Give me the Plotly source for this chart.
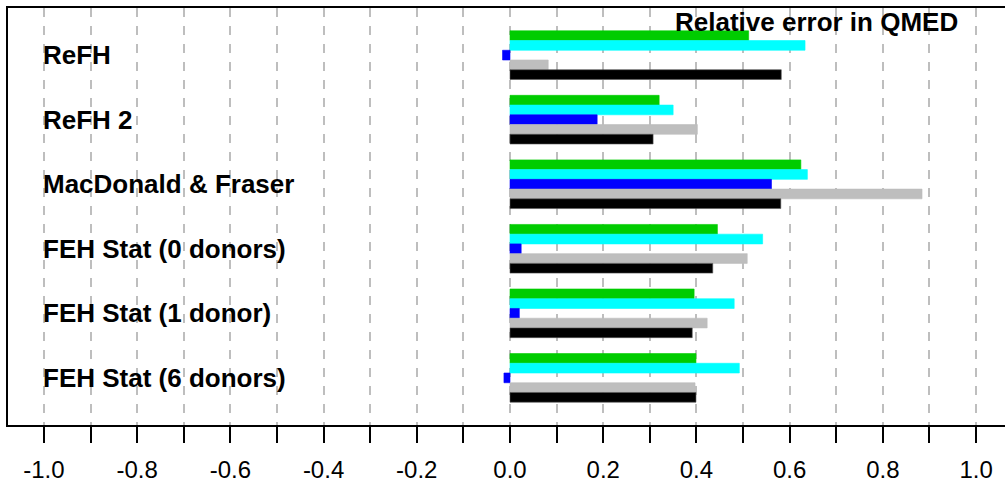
import plotly.graph_objects as go

categories = ["ReFH", "ReFH 2", "MacDonald & Fraser", "FEH Stat (0 donors)",
              "FEH Stat (1 donor)", "FEH Stat (6 donors)"]
green_vals = [0.512, 0.320, 0.624, 0.445, 0.395, 0.399]
cyan_vals = [0.633, 0.350, 0.638, 0.542, 0.481, 0.492]
blue_vals = [-0.016, 0.187, 0.561, 0.024, 0.020, -0.013]
gray_vals = [0.082, 0.402, 0.884, 0.509, 0.423, 0.397]
black_vals = [0.582, 0.307, 0.581, 0.435, 0.391, 0.399]
tick_vals = [-1.0, -0.8, -0.6, -0.4, -0.2, 0.0, 0.2, 0.4, 0.6, 0.8, 1.0]
tick_text = ["-1.0", "-0.8", "-0.6", "-0.4", "-0.2", "0.0", "0.2", "0.4", "0.6", "0.8", "1.0"]

series = [
    (green_vals, "#00CC00", "#00CC00"),
    (cyan_vals, "#00FFFF", "#00FFFF"),
    (blue_vals, "#0000FF", "#0000FF"),
    (gray_vals, "#BEBEBE", "#BEBEBE"),
    (black_vals, "#000000", "#555555"),
]

fig = go.Figure()
for vals, col, lcol in series:
    fig.add_trace(go.Bar(
        y=categories, x=vals, orientation="h",
        marker=dict(color=col, line=dict(color=lcol, width=0.6)),
        showlegend=False, hoverinfo="x+y",
    ))

for c in categories:
    fig.add_annotation(
        x=-1.0, y=c, xref="x", yref="y", text="<b>%s</b>" % c,
        showarrow=False, xanchor="left", yanchor="middle", xshift=-3,
        font=dict(family="Liberation Sans, Arial, sans-serif", size=26, color="black"),
    )

fig.add_annotation(
    x=0.955, y=1.0, xref="paper", yref="paper",
    text="<b>Relative error in QMED</b>", showarrow=False,
    xanchor="right", yanchor="top", yshift=3,
    font=dict(family="Liberation Sans, Arial, sans-serif", size=26, color="black"),
)

fig.update_layout(
    width=1005, height=490,
    margin=dict(l=8, r=0, t=8, b=65),
    paper_bgcolor="white", plot_bgcolor="white",
    barmode="group", bargap=0.246, bargroupgap=0.0,
    font=dict(family="Liberation Sans, Arial, sans-serif", size=24, color="black"),
    xaxis=dict(
        range=[-1.077, 1.062],
        tickmode="array", tickvals=tick_vals, ticktext=tick_text,
        ticks="outside", ticklen=16, tickwidth=1.5, tickcolor="black",
        showline=True, linecolor="black", linewidth=1.5, mirror=True,
        showgrid=True, gridcolor="#BEBEBE", gridwidth=1.5, griddash="dash",
        zeroline=False,
        ticklabelstandoff=6,
        minor=dict(dtick=0.1, tick0=0, ticks="outside", ticklen=16, tickwidth=1.5,
                   tickcolor="black", showgrid=True, gridcolor="#BEBEBE",
                   gridwidth=1.5, griddash="dash"),
        tickfont=dict(size=24),
    ),
    yaxis=dict(
        range=[5.73, -0.73],
        showticklabels=False, ticks="",
        showline=True, linecolor="black", linewidth=1.5, mirror=False,
        showgrid=False, zeroline=False,
    ),
)

fig.write_html("out.html")
